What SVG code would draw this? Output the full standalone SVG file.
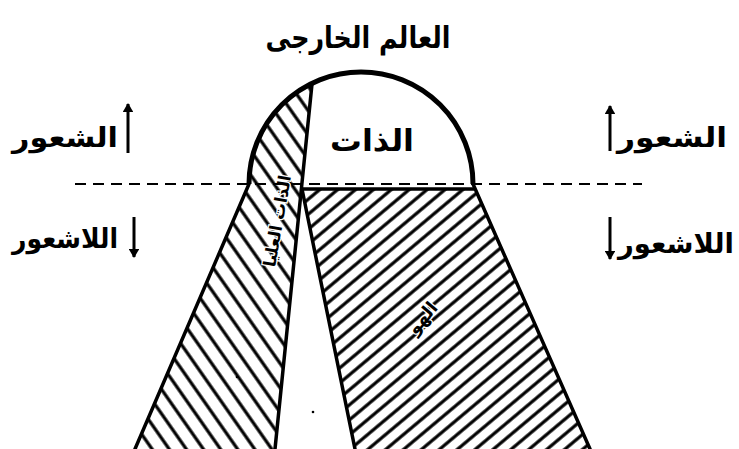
<svg xmlns="http://www.w3.org/2000/svg" width="739" height="449" viewBox="0 0 739 449">
<style>
.t{font-family:"DejaVu Sans","Noto Sans",sans-serif;font-weight:bold;fill:#000}
.edge{stroke:#000;stroke-width:3.5;fill:none;stroke-linecap:round}
.arrow{stroke:#000;stroke-width:3;fill:none}
</style>
<defs>
<pattern id="hatchId" patternUnits="userSpaceOnUse" width="20" height="11.5" patternTransform="rotate(-40)">
<line x1="0" y1="5.75" x2="20" y2="5.75" stroke="#000" stroke-width="3.2"/>
</pattern>
<pattern id="hatchSe" patternUnits="userSpaceOnUse" width="20" height="14" patternTransform="rotate(55)">
<line x1="0" y1="7" x2="20" y2="7" stroke="#000" stroke-width="3.2"/>
</pattern>
<marker id="ah" viewBox="0 0 10 12" refX="9" refY="6" markerWidth="3.6" markerHeight="3.6" orient="auto" markerUnits="strokeWidth">
<path d="M0,0 L10,6 L0,12 Z" fill="#000"/>
</marker>
</defs>
<rect width="739" height="449" fill="#fff"/>

<g id="superego">
<path d="M135,449 L249,184 A112 112 0 0 1 312,83.3 L275,449 Z" fill="url(#hatchSe)"/>
<text class="t" font-size="17" transform="translate(283,222) rotate(-80)" text-anchor="middle" stroke="#fff" stroke-width="2.5" paint-order="stroke">الذات العليا</text>
</g>

<g id="id">
<path d="M302,189 L474,189 L590,449 L355,449 Z" fill="url(#hatchId)"/>
<text class="t" font-size="18" transform="translate(427,322) rotate(-50)" text-anchor="middle" stroke="#fff" stroke-width="2.5" paint-order="stroke">الهو</text>
</g>

<g id="ego">
<text class="t" x="372" y="151" font-size="30" text-anchor="middle" textLength="84" lengthAdjust="spacingAndGlyphs">الذات</text>
</g>

<g id="outline">
<path d="M249,184 A112 112 0 0 1 473,184" stroke="#000" stroke-width="5" fill="none"/>
<line class="edge" x1="249" y1="184" x2="135" y2="449"/>
<line class="edge" x1="473" y1="184" x2="590" y2="449"/>
<line class="edge" x1="312" y1="84" x2="275" y2="449" stroke-width="3.2"/>
<line class="edge" x1="302" y1="189" x2="355" y2="449" stroke-width="3.2"/>
<line class="edge" x1="302" y1="189" x2="474" y2="189" stroke-width="3"/>
</g>

<g id="connectors">
<line x1="75" y1="184" x2="642" y2="184" stroke="#000" stroke-width="2" stroke-dasharray="11 7"/>
<line class="arrow" x1="128" y1="153" x2="128" y2="104" marker-end="url(#ah)"/>
<line class="arrow" x1="134" y1="217" x2="134" y2="257" marker-end="url(#ah)"/>
<line class="arrow" x1="610" y1="151" x2="610" y2="106" marker-end="url(#ah)"/>
<line class="arrow" x1="610" y1="217" x2="610" y2="259" marker-end="url(#ah)"/>
</g>

<g id="external">
<text class="t" x="358" y="48" font-size="30" text-anchor="middle" textLength="185" lengthAdjust="spacingAndGlyphs">العالم الخارجى</text>
</g>
<g id="left-labels">
<text class="t" x="65" y="147" font-size="27" text-anchor="middle" textLength="106" lengthAdjust="spacingAndGlyphs">الشعور</text>
<text class="t" x="65" y="248" font-size="27" text-anchor="middle" textLength="106" lengthAdjust="spacingAndGlyphs">اللاشعور</text>
</g>
<g id="right-labels">
<text class="t" x="672" y="147" font-size="27" text-anchor="middle" textLength="110" lengthAdjust="spacingAndGlyphs">الشعور</text>
<text class="t" x="676" y="253" font-size="27" text-anchor="middle" textLength="116" lengthAdjust="spacingAndGlyphs">اللاشعور</text>
</g>
<g id="specks">
<circle cx="313" cy="412" r="1.3" fill="#000"/>
<circle cx="237" cy="377" r="1.3" fill="#000"/>
</g>
</svg>
